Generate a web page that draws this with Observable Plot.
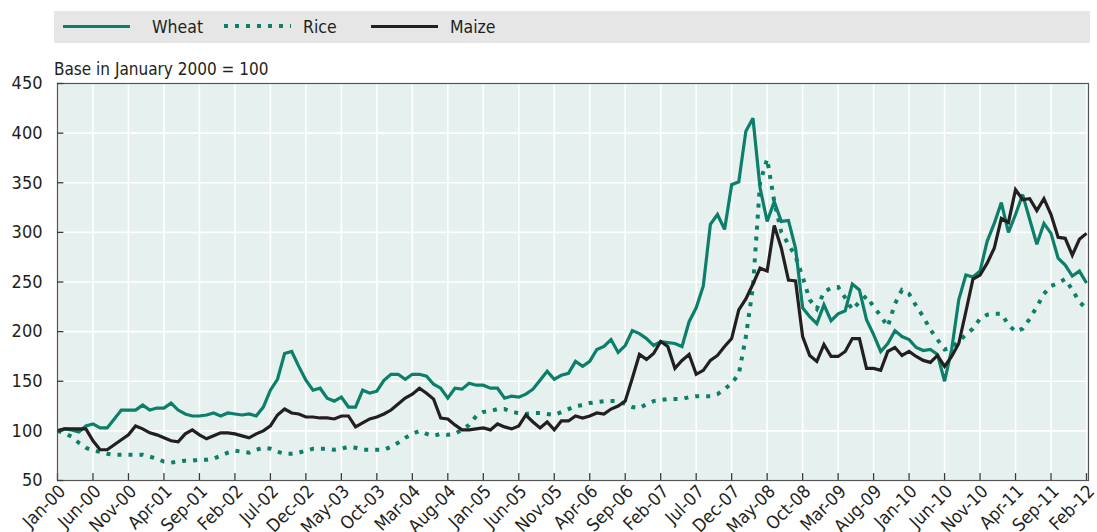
<!DOCTYPE html>
<html>
<head>
<meta charset="utf-8">
<script src="https://cdn.jsdelivr.net/npm/d3@7"></script>
<script src="https://cdn.jsdelivr.net/npm/@observablehq/plot@0.6"></script>
<style>
  html, body { margin: 0; padding: 0; background: #fff; }
  body { width: 1097px; height: 532px; overflow: hidden; font-family: "DejaVu Sans Condensed", "DejaVu Sans", sans-serif; font-stretch: condensed; color: #231f20; }
  #head { position: relative; height: 60px; z-index: 2; }
  #legend { position: absolute; left: 54px; top: 11px; width: 1036px; height: 32px; background: #e6e6e6; }
  .sw { position: absolute; top: 15px; height: 0; }
  .lab { position: absolute; top: 4px; font-size: 17.5px; line-height: 24px; white-space: nowrap; }
  #sub { position: absolute; left: 54px; top: 58px; font-size: 17px; line-height: 22px; white-space: nowrap; }
  #chart { position: relative; z-index: 1; }
</style>
</head>
<body>
<div id="head">
  <div id="legend"></div>
  <div id="sub">Base in January 2000 = 100</div>
</div>
<div id="chart"></div>
<script>
// ---- data (monthly index, Jan-2000 = 100) ----
const seriesNames = ["Wheat", "Rice", "Maize"];
const wheat = [100,102,101,99,105,107,103,103,112,121,121,121,126,121,123,123,128,121,117,115,
  115,116,118,115,118,117,116,117,115,124,141,152,178,180,165,151,141,143,133,130,
  134,124,124,141,138,140,151,157,157,152,157,157,155,147,143,133,143,142,148,146,
  146,143,143,133,135,134,137,142,151,160,152,156,158,170,165,170,182,185,192,179,
  186,201,198,193,186,190,189,188,185,210,224,246,308,318,303,348,351,402,415,345,
  311,331,311,312,284,224,215,208,227,211,218,221,248,242,212,197,180,188,201,195,
  192,184,181,182,177,150,182,232,257,255,261,291,309,330,300,318,338,313,288,309,
  299,274,267,256,261,249];
const rice = [100,98,94,88,83,80,79,77,76,76,76,76,76,74,72,69,68,69,70,70,
  71,71,72,75,78,80,79,78,81,83,82,79,77,77,78,80,82,82,82,81,
  82,84,83,81,81,81,81,84,88,93,97,100,97,95,97,96,97,101,106,115,
  119,120,122,122,119,118,117,118,118,117,116,119,122,125,126,128,129,130,130,130,
  127,124,123,127,130,131,132,132,132,134,135,135,135,137,142,148,157,195,245,350,
  374,331,300,288,276,255,232,223,240,244,245,234,222,230,236,225,216,205,228,242,
  238,226,215,202,192,182,184,190,197,203,213,217,218,218,207,200,203,213,225,238,
  246,249,253,242,230,223];
const maize = [100,102,102,102,102,90,81,81,86,91,96,105,102,98,96,93,90,89,97,101,
  96,92,95,98,98,97,95,93,97,100,105,116,122,118,117,114,114,113,113,112,
  115,115,104,108,112,114,117,121,127,133,137,143,138,132,113,112,106,101,101,102,
  103,101,107,104,102,105,116,109,103,109,101,110,110,115,113,115,118,117,122,125,
  130,153,177,172,178,190,185,163,171,177,157,161,171,176,185,193,222,233,248,264,
  261,307,284,252,251,195,176,170,187,175,175,180,193,193,163,163,161,180,184,176,
  180,175,171,169,176,165,175,188,220,253,257,269,284,314,310,343,333,334,322,334,
  318,295,294,277,293,299];
const tickLabels = ["Jan-00","Jun-00","Nov-00","Apr-01","Sep-01","Feb-02","Jul-02","Dec-02","May-03","Oct-03",
  "Mar-04","Aug-04","Jan-05","Jun-05","Nov-05","Apr-06","Sep-06","Feb-07","Jul-07","Dec-07",
  "May-08","Oct-08","Mar-09","Aug-09","Jan-10","Jun-10","Nov-10","Apr-11","Sep-11","Feb-12"];
const yTicks = [50,100,150,200,250,300,350,400,450];

// ---- styles ----
const GREEN = "#0b7f69";
const BLACK = "#231f20";
const BG = "#e6f0ef";
const FONT = '"DejaVu Sans Condensed", "DejaVu Sans", sans-serif';
const styles = {
  Wheat: {stroke: GREEN, strokeWidth: 3.2, dash: null},
  Rice:  {stroke: GREEN, strokeWidth: 4, dash: "4,7"},
  Maize: {stroke: BLACK, strokeWidth: 3.2, dash: null}
};

// ---- legend (HTML) ----
const legend = document.getElementById("legend");
const legPos = [{line: 9, text: 98}, {line: 170, text: 249}, {line: 317, text: 396}];
seriesNames.forEach((name, i) => {
  const s = styles[name];
  const sw = document.createElement("div");
  sw.className = "sw";
  sw.style.left = legPos[i].line + "px";
  sw.style.width = "67px";
  if (s.dash) {
    sw.style.height = "4px";
    sw.style.top = "13px";
    sw.style.background = `repeating-linear-gradient(90deg, ${s.stroke} 0 4px, transparent 4px 11px)`;
  } else {
    sw.style.borderTop = "3px solid " + s.stroke;
    sw.style.top = "14px";
  }
  legend.appendChild(sw);
  const lab = document.createElement("div");
  lab.className = "lab";
  lab.style.left = legPos[i].text + "px";
  lab.textContent = name;
  legend.appendChild(lab);
});

// ---- table ----
const allValues = {Wheat: wheat, Rice: rice, Maize: maize};
const rows = name => allValues[name].map((v, m) => ({m, v, series: name}));
const xTicks = tickLabels.map((_, i) => i * 5);

const lineMark = name => Plot.line(rows(name), {
  x: "m", y: "v",
  stroke: styles[name].stroke,
  strokeWidth: styles[name].strokeWidth,
  strokeDasharray: styles[name].dash,
  strokeLinecap: "butt",
  strokeLinejoin: "miter",
  strokeMiterlimit: 3
});

const chart = Plot.plot({
  width: 1097,
  height: 472,
  marginTop: 23,
  marginBottom: 52,
  marginLeft: 57,
  marginRight: 9,
  style: {fontFamily: FONT, fontSize: "18px", color: BLACK, background: "transparent"},
  x: {type: "linear", domain: [0, 145], insetLeft: 0, insetRight: 2, label: null},
  y: {domain: [50, 450], label: null},
  marks: [
    Plot.frame({fill: BG, stroke: null}),
    Plot.ruleY(yTicks, {stroke: "white", strokeWidth: 1.6}),
    Plot.ruleX(xTicks, {stroke: "white", strokeWidth: 1.6}),
    lineMark("Rice"),
    lineMark("Wheat"),
    lineMark("Maize"),
    Plot.ruleX(xTicks, {y1: 50, y2: 57, stroke: "#3a3a3a", strokeWidth: 1.3}),
    Plot.frame({stroke: "#555", strokeWidth: 1.2}),
    Plot.ruleY(yTicks, {x1: 0, x2: 0.9, stroke: "#3a3a3a", strokeWidth: 1.3}),
    Plot.axisY(yTicks, {label: null, tickSize: 0, tickPadding: 15, fontSize: 18, fill: BLACK}),
    Plot.axisX(xTicks, {label: null, tickFormat: i => tickLabels[i / 5], tickRotate: -45, tickSize: 0, tickPadding: 8, dx: 5, fontSize: 18, fill: BLACK})
  ]
});
document.getElementById("chart").appendChild(chart);
</script>
</body>
</html>
